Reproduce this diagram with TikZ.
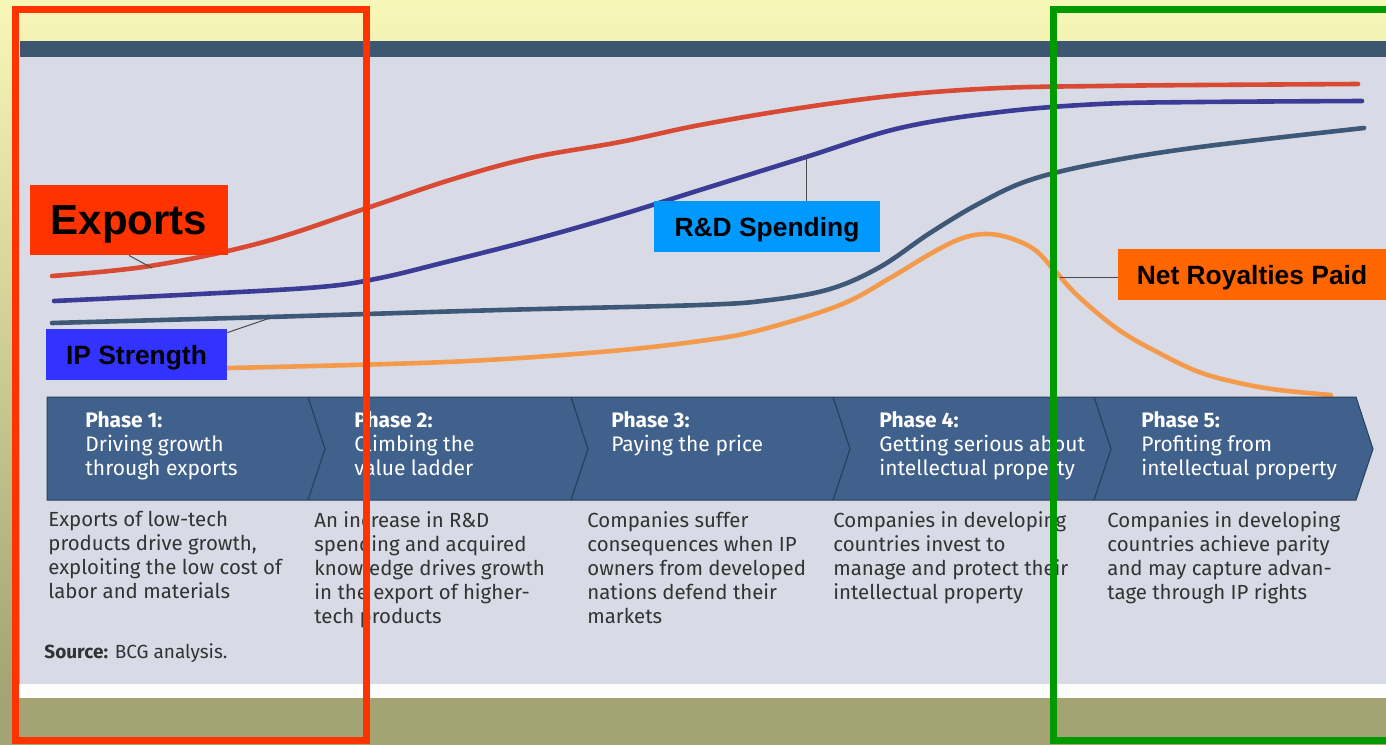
\documentclass[tikz,border=0pt]{standalone}
\usepackage{fontspec}
\setmainfont{Fira Sans}
\newfontfamily\lblfont{Liberation Sans}
\definecolor{bgtop}{HTML}{F7F7B8}
\definecolor{bgbottom}{HTML}{A3A373}
\definecolor{panelgray}{HTML}{D8DBE5}
\definecolor{topbar}{HTML}{3E5771}
\definecolor{bannerblue}{HTML}{41618D}
\definecolor{dividerblue}{HTML}{28405E}
\definecolor{exportsred}{HTML}{D94A35}
\definecolor{rdblue}{HTML}{3A3C96}
\definecolor{ipslate}{HTML}{3E5878}
\definecolor{royorange}{HTML}{F39A4C}
\definecolor{leadergray}{HTML}{4A4A4A}
\definecolor{descgray}{HTML}{333333}
\definecolor{boxred}{HTML}{FF3300}
\definecolor{boxcyan}{HTML}{0099FF}
\definecolor{boxblue}{HTML}{3333FF}
\definecolor{boxorange}{HTML}{FF6600}
\definecolor{framegreen}{HTML}{009900}
\begin{document}
\begin{tikzpicture}[x=0.5pt, y=-0.5pt,
	box style/.style={rectangle, inner sep=0pt, text depth=0pt, text=black, font=\lblfont\bfseries\fontsize{13.2}{15}\selectfont},
	curve style/.style={line width=2.3pt, line cap=round},
	leader style/.style={draw=leadergray, line width=0.5pt},
	head style/.style={anchor=north west, inner sep=0pt, align=left, text=white, font=\fontsize{10.5}{12}\selectfont},
	desc style/.style={anchor=north west, inner sep=0pt, align=left, text=descgray, font=\fontsize{10.2}{12}\selectfont},
	frame style/.style={line width=3.5pt}]
	\useasboundingbox (0,0) rectangle (1386,745);
	% background and panel
	\shade[top color=bgtop, bottom color=bgbottom] (0,0) rectangle (1386,700);
	\fill[bgbottom] (0,700) rectangle (1386,745);
	\fill[white!96!panelgray] (18,684) rectangle (1386,698);
	\fill[panelgray] (20,41) rectangle (1386,684);
	\fill[topbar] (20,41) rectangle (1386,57);
	% curves
	\draw[curve style, exportsred] plot[smooth, tension=0.6] coordinates {(52,276) (150,266) (260,243) (367,208) (450,180) (530,158) (620,142) (700,125) (800,108) (900,95) (1000,88) (1100,86) (1200,85) (1358,84)};
	\draw[curve style, rdblue] plot[smooth, tension=0.6] coordinates {(54,301) (200,294) (320,287) (380,278) (446,262) (536,239) (620,215) (700,190) (806,157) (900,128) (1000,112) (1100,104) (1200,102) (1362,101)};
	\draw[curve style, ipslate] plot[smooth, tension=0.6] coordinates {(52,323) (268,317) (500,310) (700,305) (770,300) (830,289) (880,267) (930,233) (980,203) (1030,180) (1100,163) (1200,147) (1364,128)};
	\draw[curve style, royorange] plot[smooth, tension=0.6] coordinates {(228,368) (446,362) (600,352) (700,341) (760,330) (840,305) (890,278) (930,254) (960,239) (985,234) (1010,238) (1035,250) (1055,271) (1079,297) (1119,330) (1159,353) (1199,372) (1239,383) (1279,390) (1331,395)};
	% labels
	\node[box style, fill=boxred, minimum width=99pt, minimum height=35pt, font=\lblfont\bfseries\fontsize{21}{24}\selectfont] (exp) at (129,220) {Exports};
	\node[box style, fill=boxcyan, minimum width=113pt, minimum height=25.5pt] (rd) at (767,226.5) {R\&D Spending};
	\node[box style, fill=boxblue, minimum width=90.5pt, minimum height=25.5pt] (ips) at (136.5,354.5) {IP Strength};
	\node[box style, fill=boxorange, minimum width=134pt, minimum height=25.5pt] (net) at (1252,274.5) {Net Royalties Paid};
	\coordinate (expt) at (152,268);
	\coordinate (ipst) at (270,318);
	\coordinate (rdt) at (806,157);
	\coordinate (nett) at (1060,277);
	\draw[leader style] (exp.south) -- (expt);
	\draw[leader style] ([yshift=-2pt]ips.north east) -- (ipst);
	\draw[leader style] (rd.north -| rdt) -- (rdt);
	\draw[leader style] (net.west |- nett) -- (nett);
	% phase banner
	\fill[bannerblue, draw=dividerblue, line width=0.5pt] (47,397) -- (1356,397) -- (1373,449) -- (1356,500) -- (47,500) -- cycle;
	\foreach \x in {308,571,833,1094}
	\draw[dividerblue, line width=0.6pt] (\x,397) -- ++(17,52) -- ++(-17,51);
	\foreach \i/\hx/\dx/\head/\desc in {
		1/85/48/{Driving growth\\through exports}/{Exports of low-tech\\products drive growth,\\exploiting the low cost of\\labor and materials},
		2/354/314/{Climbing the\\value ladder}/{An increase in R\&D\\spending and acquired\\knowledge drives growth\\in the export of higher-\\tech products},
		3/611/587/{Paying the price}/{Companies suffer\\consequences when IP\\owners from developed\\nations defend their\\markets},
		4/879/833/{Getting serious about\\intellectual property}/{Companies in developing\\countries invest to\\manage and protect their\\intellectual property},
		5/1141/1107/{Profiting from\\intellectual property}/{Companies in developing\\countries achieve parity\\and may capture advan-\\tage through IP rights}}
	{
		\node[head style] (H\i) at (\hx,411) {\textbf{Phase \i:}\\\head};
		\node[desc style] (D\i) at (\dx,511) {\desc};
	}
	\node[anchor=base west, inner sep=0pt, text=descgray, font=\fontsize{9.5}{11}\selectfont] (src) at (44,658) {\textbf{Source:} BCG analysis.};
	% frames
	\draw[frame style, boxred] (15,9) rectangle (366,740);
	\draw[frame style, framegreen] (1053.5,9) rectangle (1400,740);
\end{tikzpicture}
\end{document}
